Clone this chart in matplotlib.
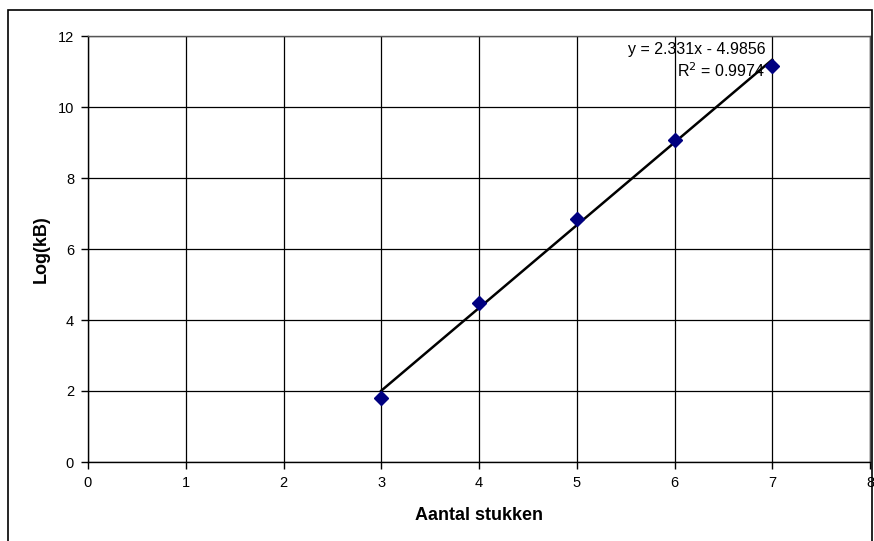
import numpy as np
import matplotlib
matplotlib.use("Agg")
import matplotlib.pyplot as plt
from matplotlib.patches import Rectangle

plt.rcParams['font.family'] = ['Liberation Sans', 'DejaVu Sans']

x_vals = [3, 4, 5, 6, 7]
y_vals = [1.8, 4.47, 6.85, 9.08, 11.15]
x_ticks = [0, 1, 2, 3, 4, 5, 6, 7, 8]
y_ticks = [0, 2, 4, 6, 8, 10, 12]
eq_text = "y = 2.331x - 4.9856"
r2_text = "R$^2$ = 0.9974"

W, H = 874, 541
fig = plt.figure(figsize=(W / 100, H / 100), dpi=100)
ax = fig.add_axes([88 / W, 1 - 462 / H, (870 - 88) / W, (462 - 36) / H])

# outer chart border
fig.patches.append(Rectangle((8 / W, -0.01), (872 - 8) / W, 1 - 10 / H + 0.01,
                             transform=fig.transFigure, fill=False,
                             edgecolor='black', linewidth=1.2, zorder=0))

ax.set_xlim(0, 8)
ax.set_ylim(0, 12)
ax.set_xticks(x_ticks)
ax.set_yticks(y_ticks)
ax.grid(True, color='black', linewidth=0.9)
ax.set_axisbelow(True)
for s in ax.spines.values():
    s.set_color('#555555')
    s.set_linewidth(1.0)
ax.spines['left'].set_color('black')
ax.spines['bottom'].set_color('black')
ax.tick_params(direction='out', length=5, width=1, labelsize=10.5, color='black', pad=5)

coef = np.polyfit(x_vals, y_vals, 1)
xf = np.array([min(x_vals), max(x_vals)])
ax.plot(xf, np.polyval(coef, xf), color='black', linewidth=1.8, zorder=3)
ax.plot(x_vals, y_vals, linestyle='none', marker='D', markersize=7,
        color='#000080', zorder=4, clip_on=False)

ax.text(6.93, 11.63, eq_text, ha='right', va='center', fontsize=11.5)
ax.text(6.93, 11.02, r2_text, ha='right', va='center', fontsize=11.5)

ax.set_xlabel("Aantal stukken", fontsize=13, fontweight='bold', labelpad=12)
ax.set_ylabel("Log(kB)", fontsize=13, fontweight='bold', labelpad=6)

fig.savefig("out.png", dpi=100)
